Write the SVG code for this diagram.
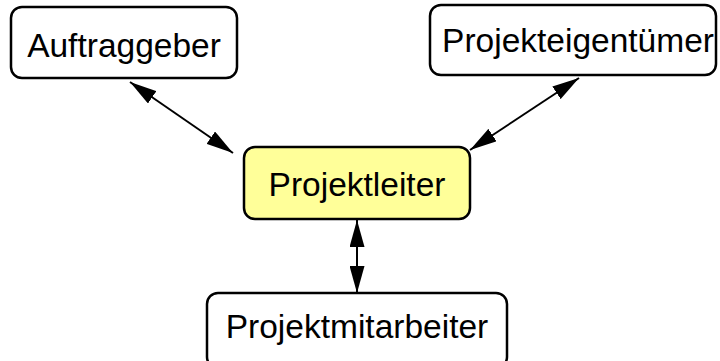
<svg xmlns="http://www.w3.org/2000/svg" width="720" height="361" viewBox="0 0 720 361">
<defs>
<style>
.box{fill:#ffffff;stroke:#000;stroke-width:2.5}
.main{fill:#ffff99}
.lbl{font-family:"Liberation Sans",Arial,sans-serif;font-size:33.5px;fill:#000;text-anchor:middle}
.conn{stroke:#000;stroke-width:2;fill:none;marker-start:url(#ah);marker-end:url(#ah)}
</style>
<marker id="ah" markerUnits="userSpaceOnUse" markerWidth="27" markerHeight="15" refX="27" refY="7.5" orient="auto-start-reverse" viewBox="0 0 27 15">
<path d="M0,0 L27,7.5 L0,15 z" fill="#000"/>
</marker>
</defs>
<rect width="720" height="361" fill="#fff"/>
<g id="connectors">
<line class="conn" x1="130" y1="82" x2="233" y2="153"/>
<line class="conn" x1="579" y1="78" x2="470" y2="150"/>
<line class="conn" x1="357" y1="220" x2="357" y2="293"/>
</g>
<g id="auftraggeber">
<rect class="box" x="11" y="7" width="226" height="71" rx="11"/>
<text class="lbl" x="124" y="57">Auftraggeber</text>
</g>
<g id="projekteigentuemer">
<rect class="box" x="430" y="5" width="286" height="70" rx="11"/>
<text class="lbl" x="578" y="52">Projekteigentümer</text>
</g>
<g id="projektleiter">
<rect class="box main" x="244" y="147" width="226" height="72" rx="11"/>
<text class="lbl" x="357" y="196">Projektleiter</text>
</g>
<g id="projektmitarbeiter">
<rect class="box" x="207" y="293" width="300" height="75" rx="11"/>
<text class="lbl" x="357" y="338">Projektmitarbeiter</text>
</g>
</svg>
